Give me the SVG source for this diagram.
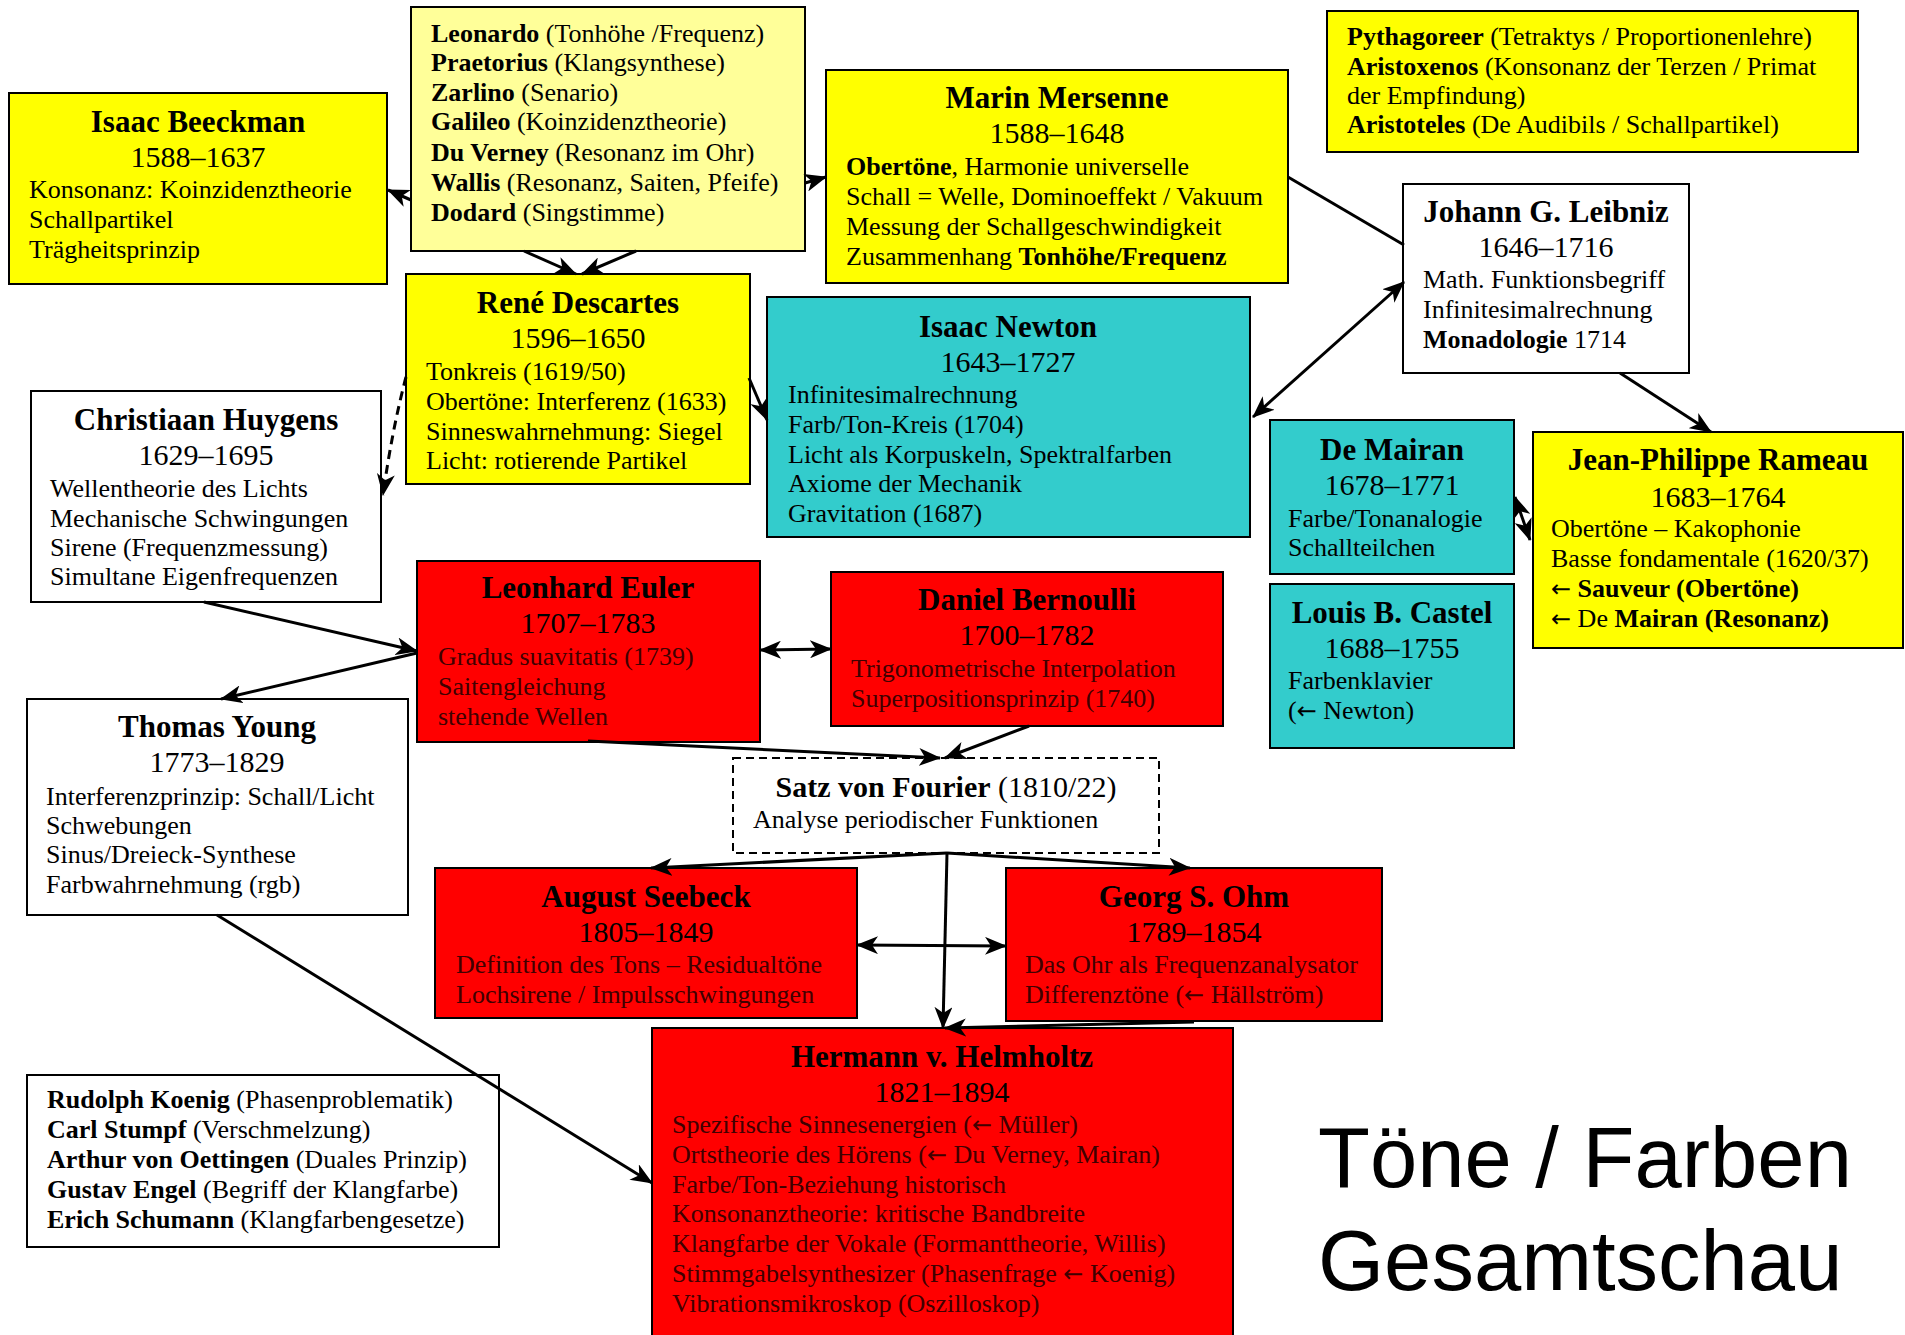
<svg xmlns="http://www.w3.org/2000/svg" width="1905" height="1335" viewBox="0 0 1905 1335">
<style>
text{font-family:"Liberation Serif","Times New Roman",serif;fill:#000}
.t{font-size:31px;font-weight:bold;text-anchor:middle}
.y{font-size:30px;text-anchor:middle}
.l{font-size:26px}
.b{font-weight:bold}
.a{font-family:"DejaVu Sans",sans-serif;font-weight:normal;font-size:24px}
.r .l{fill:#400000}
.n{stroke:#000;stroke-width:2}
.yel{fill:#FFFF00}.lyel{fill:#FFFF99}.cy{fill:#33CCCC}.red{fill:#FF0000}.wh{fill:#FFFFFF}
.c{fill:none;stroke:#000;stroke-width:3}
.big{font-family:"Liberation Sans",Arial,sans-serif;font-size:85px}
</style>
<defs>
<marker id="ah" markerUnits="userSpaceOnUse" markerWidth="22" markerHeight="18" refX="21" refY="9" orient="auto-start-reverse" viewBox="0 0 22 18">
<path d="M0,0 L22,9 L0,18 L6,9 z" fill="#000"/>
</marker>
</defs>
<rect x="0" y="0" width="1905" height="1335" fill="#fff"/>

<g id="beeckman"><rect class="n yel" x="9" y="93" width="378" height="191"/>
<text class="t" x="198" y="132">Isaac Beeckman</text><text class="y" x="198" y="167">1588–1637</text>
<text class="l" x="29" y="198">Konsonanz: Koinzidenztheorie</text>
<text class="l" x="29" y="228">Schallpartikel</text>
<text class="l" x="29" y="258">Trägheitsprinzip</text></g>

<g id="vorlaeufer"><rect class="n lyel" x="411" y="7" width="394" height="244"/>
<text class="l" x="431" y="42"><tspan class="b">Leonardo</tspan> (Tonhöhe /Frequenz)</text>
<text class="l" x="431" y="71"><tspan class="b">Praetorius</tspan> (Klangsynthese)</text>
<text class="l" x="431" y="101"><tspan class="b">Zarlino</tspan> (Senario)</text>
<text class="l" x="431" y="130"><tspan class="b">Galileo</tspan> (Koinzidenztheorie)</text>
<text class="l" x="431" y="161"><tspan class="b">Du Verney</tspan> (Resonanz im Ohr)</text>
<text class="l" x="431" y="191"><tspan class="b">Wallis</tspan> (Resonanz, Saiten, Pfeife)</text>
<text class="l" x="431" y="221"><tspan class="b">Dodard</tspan> (Singstimme)</text></g>

<g id="mersenne"><rect class="n yel" x="826" y="70" width="462" height="213"/>
<text class="t" x="1057" y="108">Marin Mersenne</text><text class="y" x="1057" y="143">1588–1648</text>
<text class="l" x="846" y="175"><tspan class="b">Obertöne</tspan>, Harmonie universelle</text>
<text class="l" x="846" y="205">Schall = Welle, Dominoeffekt / Vakuum</text>
<text class="l" x="846" y="235">Messung der Schallgeschwindigkeit</text>
<text class="l" x="846" y="265">Zusammenhang <tspan class="b">Tonhöhe/Frequenz</tspan></text></g>

<g id="antike"><rect class="n yel" x="1327" y="11" width="531" height="141"/>
<text class="l" x="1347" y="45"><tspan class="b">Pythagoreer</tspan> (Tetraktys / Proportionenlehre)</text>
<text class="l" x="1347" y="75"><tspan class="b">Aristoxenos</tspan> (Konsonanz der Terzen / Primat</text>
<text class="l" x="1347" y="104">der Empfindung)</text>
<text class="l" x="1347" y="133"><tspan class="b">Aristoteles</tspan> (De Audibils / Schallpartikel)</text></g>

<g id="leibniz"><rect class="n wh" x="1403" y="184" width="286" height="189"/>
<text class="t" x="1546" y="222">Johann G. Leibniz</text><text class="y" x="1546" y="257">1646–1716</text>
<text class="l" x="1423" y="288">Math. Funktionsbegriff</text>
<text class="l" x="1423" y="318">Infinitesimalrechnung</text>
<text class="l" x="1423" y="348"><tspan class="b">Monadologie</tspan> 1714</text></g>

<g id="descartes"><rect class="n yel" x="406" y="274" width="344" height="210"/>
<text class="t" x="578" y="313">René Descartes</text><text class="y" x="578" y="348">1596–1650</text>
<text class="l" x="426" y="380">Tonkreis (1619/50)</text>
<text class="l" x="426" y="410">Obertöne: Interferenz (1633)</text>
<text class="l" x="426" y="440">Sinneswahrnehmung: Siegel</text>
<text class="l" x="426" y="469">Licht: rotierende Partikel</text></g>

<g id="huygens"><rect class="n wh" x="31" y="391" width="350" height="211"/>
<text class="t" x="206" y="430">Christiaan Huygens</text><text class="y" x="206" y="465">1629–1695</text>
<text class="l" x="50" y="497">Wellentheorie des Lichts</text>
<text class="l" x="50" y="527">Mechanische Schwingungen</text>
<text class="l" x="50" y="556">Sirene (Frequenzmessung)</text>
<text class="l" x="50" y="585">Simultane Eigenfrequenzen</text></g>

<g id="newton"><rect class="n cy" x="767" y="297" width="483" height="240"/>
<text class="t" x="1008" y="337">Isaac Newton</text><text class="y" x="1008" y="372">1643–1727</text>
<text class="l" x="788" y="403">Infinitesimalrechnung</text>
<text class="l" x="788" y="433">Farb/Ton-Kreis (1704)</text>
<text class="l" x="788" y="463">Licht als Korpuskeln, Spektralfarben</text>
<text class="l" x="788" y="492">Axiome der Mechanik</text>
<text class="l" x="788" y="522">Gravitation (1687)</text></g>

<g id="mairan"><rect class="n cy" x="1270" y="420" width="244" height="154"/>
<text class="t" x="1392" y="460">De Mairan</text><text class="y" x="1392" y="495">1678–1771</text>
<text class="l" x="1288" y="527">Farbe/Tonanalogie</text>
<text class="l" x="1288" y="556">Schallteilchen</text></g>

<g id="castel"><rect class="n cy" x="1270" y="584" width="244" height="164"/>
<text class="t" x="1392" y="623">Louis B. Castel</text><text class="y" x="1392" y="658">1688–1755</text>
<text class="l" x="1288" y="689">Farbenklavier</text>
<text class="l" x="1288" y="719">(<tspan class="a">←</tspan> Newton)</text></g>

<g id="rameau"><rect class="n yel" x="1533" y="432" width="370" height="216"/>
<text class="t" x="1718" y="470">Jean-Philippe Rameau</text><text class="y" x="1718" y="507">1683–1764</text>
<text class="l" x="1551" y="537">Obertöne – Kakophonie</text>
<text class="l" x="1551" y="567">Basse fondamentale (1620/37)</text>
<text class="l" x="1551" y="597"><tspan class="a">←</tspan> <tspan class="b">Sauveur (Obertöne)</tspan></text>
<text class="l" x="1551" y="627"><tspan class="a">←</tspan> De <tspan class="b">Mairan (Resonanz)</tspan></text></g>

<g id="euler" class="r"><rect class="n red" x="417" y="561" width="343" height="181"/>
<text class="t" x="588" y="598">Leonhard Euler</text><text class="y" x="588" y="633">1707–1783</text>
<text class="l" x="438" y="665">Gradus suavitatis (1739)</text>
<text class="l" x="438" y="695">Saitengleichung</text>
<text class="l" x="438" y="725">stehende Wellen</text></g>

<g id="bernoulli" class="r"><rect class="n red" x="831" y="572" width="392" height="154"/>
<text class="t" x="1027" y="610">Daniel Bernoulli</text><text class="y" x="1027" y="645">1700–1782</text>
<text class="l" x="851" y="677">Trigonometrische Interpolation</text>
<text class="l" x="851" y="707">Superpositionsprinzip (1740)</text></g>

<g id="young"><rect class="n wh" x="27" y="699" width="381" height="216"/>
<text class="t" x="217" y="737">Thomas Young</text><text class="y" x="217" y="772">1773–1829</text>
<text class="l" x="46" y="805">Interferenzprinzip: Schall/Licht</text>
<text class="l" x="46" y="834">Schwebungen</text>
<text class="l" x="46" y="863">Sinus/Dreieck-Synthese</text>
<text class="l" x="46" y="893">Farbwahrnehmung (rgb)</text></g>

<g id="fourier"><rect class="n wh" x="733" y="758" width="426" height="95" stroke-dasharray="8,5"/>
<text class="y" x="946" y="797"><tspan class="b">Satz von Fourier</tspan> (1810/22)</text>
<text class="l" x="753" y="828">Analyse periodischer Funktionen</text></g>

<g id="seebeck" class="r"><rect class="n red" x="435" y="868" width="422" height="150"/>
<text class="t" x="646" y="907">August Seebeck</text><text class="y" x="646" y="942">1805–1849</text>
<text class="l" x="456" y="973">Definition des Tons – Residualtöne</text>
<text class="l" x="456" y="1003">Lochsirene / Impulsschwingungen</text></g>

<g id="ohm" class="r"><rect class="n red" x="1006" y="868" width="376" height="153"/>
<text class="t" x="1194" y="907">Georg S. Ohm</text><text class="y" x="1194" y="942">1789–1854</text>
<text class="l" x="1025" y="973">Das Ohr als Frequenzanalysator</text>
<text class="l" x="1025" y="1003">Differenztöne (<tspan class="a">←</tspan> Hällström)</text></g>

<g id="helmholtz" class="r"><rect class="n red" x="652" y="1028" width="581" height="320"/>
<text class="t" x="942" y="1067">Hermann v. Helmholtz</text><text class="y" x="942" y="1102">1821–1894</text>
<text class="l" x="672" y="1133">Spezifische Sinnesenergien (<tspan class="a">←</tspan> Müller)</text>
<text class="l" x="672" y="1163">Ortstheorie des Hörens (<tspan class="a">←</tspan> Du Verney, Mairan)</text>
<text class="l" x="672" y="1193">Farbe/Ton-Beziehung historisch</text>
<text class="l" x="672" y="1222">Konsonanztheorie: kritische Bandbreite</text>
<text class="l" x="672" y="1252">Klangfarbe der Vokale (Formanttheorie, Willis)</text>
<text class="l" x="672" y="1282">Stimmgabelsynthesizer (Phasenfrage <tspan class="a">←</tspan> Koenig)</text>
<text class="l" x="672" y="1312">Vibrationsmikroskop (Oszilloskop)</text></g>

<g id="nachfolger"><rect class="n wh" x="27" y="1075" width="472" height="172"/>
<text class="l" x="47" y="1108"><tspan class="b">Rudolph Koenig</tspan> (Phasenproblematik)</text>
<text class="l" x="47" y="1138"><tspan class="b">Carl Stumpf</tspan> (Verschmelzung)</text>
<text class="l" x="47" y="1168"><tspan class="b">Arthur von Oettingen</tspan> (Duales Prinzip)</text>
<text class="l" x="47" y="1198"><tspan class="b">Gustav Engel</tspan> (Begriff der Klangfarbe)</text>
<text class="l" x="47" y="1228"><tspan class="b">Erich Schumann</tspan> (Klangfarbengesetze)</text></g>

<g id="titel">
<text class="big" x="1318" y="1187">Töne / Farben</text>
<text class="big" x="1318" y="1290">Gesamtschau</text></g>

<g id="connectors">
<path class="c" d="M411,200 L388,190" marker-end="url(#ah)"/>
<path class="c" d="M805,183 L826,177" marker-end="url(#ah)"/>
<path class="c" d="M524,251 L576,274" marker-end="url(#ah)"/>
<path class="c" d="M636,251 L582,274" marker-end="url(#ah)"/>
<path class="c" d="M406,377 Q392,430 383,495" stroke-dasharray="9,6" marker-end="url(#ah)"/>
<path class="c" d="M749,378 L767,420" marker-end="url(#ah)"/>
<path class="c" d="M1288,177 L1404,245"/>
<path class="c" d="M1253,417 L1404,282" marker-start="url(#ah)" marker-end="url(#ah)"/>
<path class="c" d="M1620,373 L1711,432" marker-end="url(#ah)"/>
<path class="c" d="M1515,497 L1530,540" marker-start="url(#ah)" marker-end="url(#ah)"/>
<path class="c" d="M204,602 L417,651" marker-end="url(#ah)"/>
<path class="c" d="M417,653 L221,699" marker-end="url(#ah)"/>
<path class="c" d="M760,650 L831,649" marker-start="url(#ah)" marker-end="url(#ah)"/>
<path class="c" d="M588,741 L940,758" marker-end="url(#ah)"/>
<path class="c" d="M1029,726 L945,758" marker-end="url(#ah)"/>
<path class="c" d="M947,853 L651,868" marker-end="url(#ah)"/>
<path class="c" d="M947,853 L1190,868" marker-end="url(#ah)"/>
<path class="c" d="M947,853 L943,1028" marker-end="url(#ah)"/>
<path class="c" d="M857,945 L1006,946" marker-start="url(#ah)" marker-end="url(#ah)"/>
<path class="c" d="M1194,1022 L945,1028" marker-end="url(#ah)"/>
<path class="c" d="M217,915 L652,1183" marker-end="url(#ah)"/>
</g>
</svg>
